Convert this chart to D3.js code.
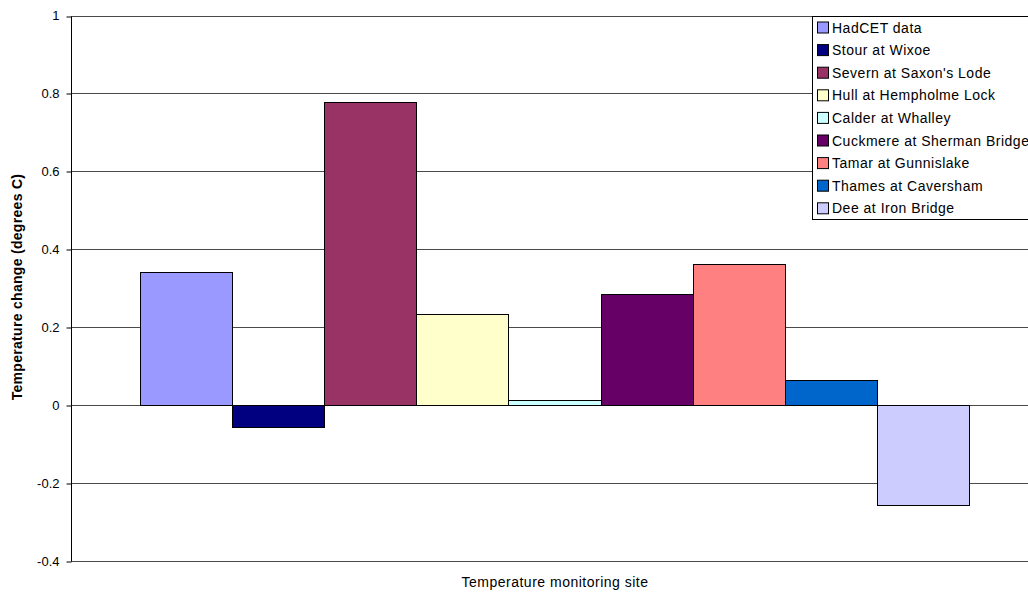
<!DOCTYPE html>
<html>
<head>
<meta charset="utf-8">
<script src="https://cdn.jsdelivr.net/npm/d3@7"></script>
<style>
  html, body { margin: 0; padding: 0; background: #fff; overflow: hidden; }
  svg { display: block; font-family: "Liberation Sans", Arial, sans-serif; }
</style>
</head>
<body>
<svg id="chart" width="1028" height="594"></svg>
<script>
// Series (one bar each within the single category)
const series = [
  "HadCET data",
  "Stour at Wixoe",
  "Severn at Saxon's Lode",
  "Hull at Hempholme Lock",
  "Calder at Whalley",
  "Cuckmere at Sherman Bridge",
  "Tamar at Gunnislake",
  "Thames at Caversham",
  "Dee at Iron Bridge"
];
const values = [0.342, -0.055, 0.777, 0.235, 0.014, 0.285, 0.362, 0.065, -0.255];
const colors = ["#9999FF", "#000080", "#993366", "#FFFFCC", "#CCFFFF",
                "#660066", "#FF8080", "#0066CC", "#CCCCFF"];
const yTicks = [-0.4, -0.2, 0, 0.2, 0.4, 0.6, 0.8, 1];
const yTitle = "Temperature change (degrees C)";
const xTitle = "Temperature monitoring site";

const svg = d3.select("#chart");
const plot = { left: 71, right: 1038, top: 15.5, bottom: 561 };

const y = d3.scaleLinear().domain([-0.4, 1]).range([plot.bottom, plot.top]);

// Clustered bars: gap width 150% of a bar
const gapRatio = 1.5;
const x = d3.scaleBand()
  .domain(series)
  .range([plot.left, plot.right])
  .paddingInner(0)
  .paddingOuter(gapRatio / 2);

const snap = v => Math.round(v) + 0.5;

// Gridlines
svg.append("g")
  .selectAll("line")
  .data(yTicks)
  .join("line")
  .attr("x1", plot.left)
  .attr("x2", plot.right)
  .attr("y1", d => snap(y(d)))
  .attr("y2", d => snap(y(d)))
  .attr("stroke", "#4a4a4a")
  .attr("stroke-width", 1);

// Bars
const barTop = v => Math.round(Math.min(y(v), y(0)));
const barBottom = v => Math.round(Math.max(y(v), y(0)));
svg.append("g")
  .selectAll("rect")
  .data(series)
  .join("rect")
  .attr("x", d => snap(x(d)))
  .attr("width", d => Math.round(x(d) + x.bandwidth()) - Math.round(x(d)))
  .attr("y", (d, i) => barTop(values[i]) + 0.5)
  .attr("height", (d, i) => Math.max(1, barBottom(values[i]) - barTop(values[i])))
  .attr("fill", (d, i) => colors[i])
  .attr("stroke", "#000")
  .attr("stroke-width", 1);

// Y axis
const fmt = d => {
  const v = +d.toFixed(1);
  return (v < 0 ? "-" : "") + String(Math.abs(v));
};
const yAxis = d3.axisLeft(y)
  .tickValues(yTicks)
  .tickFormat(fmt)
  .tickSize(5)
  .tickSizeOuter(0);

const ga = svg.append("g")
  .attr("transform", `translate(${snap(plot.left)},0)`)
  .call(yAxis);
ga.select(".domain").attr("stroke", "#000").attr("d",
  `M0,${snap(y(1))}V${snap(y(-0.4))}`);
ga.selectAll(".tick line").attr("stroke", "#000")
  .attr("transform", d => `translate(0,${snap(y(d)) - y(d)})`);
ga.selectAll(".tick text")
  .attr("font-size", 13)
  .attr("font-family", "Liberation Sans, Arial, sans-serif")
  .attr("fill", "#000")
  .attr("x", -12);

// Axis titles
svg.append("text")
  .attr("transform", `translate(22,287) rotate(-90)`)
  .attr("text-anchor", "middle")
  .attr("font-size", 14)
  .attr("font-weight", "bold")
  .attr("letter-spacing", 0.3)
  .text(yTitle);

svg.append("text")
  .attr("x", 555)
  .attr("y", 587)
  .attr("text-anchor", "middle")
  .attr("font-size", 14)
  .attr("letter-spacing", 0.5)
  .text(xTitle);

// Legend
const legend = { left: 812.5, top: 16.5, rowH: 22.6 };
const lg = svg.append("g");
lg.append("rect")
  .attr("x", legend.left)
  .attr("y", legend.top)
  .attr("width", 240)
  .attr("height", 203)
  .attr("fill", "#fff")
  .attr("stroke", "#000")
  .attr("stroke-width", 1);

const items = lg.selectAll("g.item")
  .data(series)
  .join("g")
  .attr("class", "item")
  .attr("transform", (d, i) => `translate(0,${legend.top + 11 + i * legend.rowH})`);

items.append("rect")
  .attr("x", 817.5)
  .attr("y", -5.5)
  .attr("width", 11)
  .attr("height", 11)
  .attr("fill", (d, i) => colors[i])
  .attr("stroke", "#000")
  .attr("stroke-width", 1);

items.append("text")
  .attr("x", 832)
  .attr("y", 5)
  .attr("font-size", 14)
  .attr("letter-spacing", 0.5)
  .attr("fill", "#000")
  .text(d => d);
</script>
</body>
</html>
